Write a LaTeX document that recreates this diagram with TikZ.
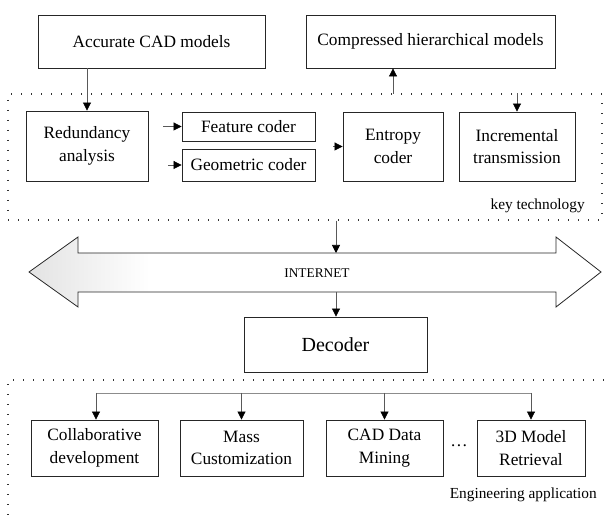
\documentclass[tikz,border=0pt]{standalone}
\usepackage{fontspec}
\setmainfont{Liberation Serif}
\usetikzlibrary{fit,arrows.meta}
\tikzset{
  box/.style={draw=black!85, line width=0.6pt, inner sep=0pt, align=center,
              font=\fontsize{13}{17}\selectfont},
  framebox/.style={draw=black!80, line width=1pt, dash pattern=on 1pt off 6.5pt, inner sep=0pt},
  conn/.style={draw=black!65, line width=0.5pt, -{Triangle[length=6pt,width=6pt,fill=black,color=black]}},
  lbl/.style={font=\fontsize{11.5}{13}\selectfont, anchor=east, inner sep=0pt},
}
\begin{document}
\begin{tikzpicture}[x=0.75pt,y=-0.75pt]
\useasboundingbox (0,0) rectangle (604,523);

% top boxes
\node[box, minimum width=170.25pt, minimum height=39.75pt] (acc) at (151.5,41.5) {Accurate CAD models};
\node[box, minimum width=186.75pt, minimum height=39.75pt] (comp) at (430.5,41.5) {Compressed hierarchical models};

% key technology frame
\node[framebox, fit={(8,94) (602,220)}] (kt) {};
\node[box, minimum width=91.5pt, minimum height=52.5pt] (red) at (87,146) {Redundancy\\analysis};
\node[box, minimum width=99.75pt, minimum height=21.75pt] (feat) at (248.5,126.5) {Feature coder};
\node[box, minimum width=99.75pt, minimum height=24pt] (geo) at (248.5,165) {Geometric coder};
\node[box, minimum width=75pt, minimum height=51.75pt] (ent) at (393,146.5) {Entropy\\coder};
\node[box, minimum width=87pt, minimum height=51.75pt] (inc) at (517,146.5) {Incremental\\transmission};
\node[lbl] (ktl) at (585,206) {key technology};

\coordinate (fs) at (163,126.5);
\coordinate (gs) at (168,165);
\coordinate (es) at (333,146.5);
\coordinate (up) at (393,94);

\draw[conn] (red.north |- acc.south) -- (red.north);
\draw[conn] (up) -- (up |- comp.south);
\draw[conn] (inc.north |- kt.north) -- (inc.north);
\draw[conn] (fs) -- (fs -| feat.west);
\draw[conn] (gs) -- (gs -| geo.west);
\draw[conn] (es) -- (ent.west);

% internet double arrow
\begin{scope}
  \clip (29,272) -- (78,237) -- (78,253) -- (556,253) -- (556,237) -- (601,272)
        -- (556,307) -- (556,292) -- (78,292) -- (78,307) -- cycle;
  \shade[left color=gray!22, right color=white] (29,230) rectangle (150,315);
\end{scope}
\draw[line width=0.6pt, draw=black!85, line join=miter]
  (29,272) -- (78,237) -- (78,253) -- (556,253) -- (556,237) -- (601,272)
  -- (556,307) -- (556,292) -- (78,292) -- (78,307) -- cycle;
\node[font=\fontsize{10}{12}\selectfont] (inet) at (317,273) {INTERNET};
\coordinate (inetT) at (336,253);
\coordinate (inetB) at (336,292);

\node[box, font=\fontsize{15}{17}\selectfont, minimum width=137.25pt, minimum height=41.25pt] (dec) at (335.5,344.5) {Decoder};

\draw[conn] (kt.south -| inetT) -- (inetT);
\draw[conn] (inetB) -- (inetB |- dec.north);

% engineering application frame
\draw[draw=black!80, line width=1pt, dash pattern=on 1pt off 6.5pt]
  (604,380) -- (8,380) -- (8,523);
\node[box, minimum width=95.25pt, minimum height=42pt] (col) at (94.5,448) {Collaborative\\development};
\node[box, minimum width=92.25pt, minimum height=42pt] (mass) at (241.5,448) {Mass\\Customization};
\node[box, minimum width=87.75pt, minimum height=42pt] (mine) at (384.5,448) {CAD Data\\Mining};
\node[box, minimum width=81pt, minimum height=42pt] (ret) at (531,448) {3D Model\\Retrieval};
\node[font=\fontsize{13}{15}\selectfont] (dots) at (459,446) {\dots};
\node[lbl] (eal) at (597,495) {Engineering application};

\coordinate (busL) at (96,393);
\coordinate (busR) at (531,393);
\draw[draw=black!45, line width=0.5pt] (busL) -- (busR);
\draw[conn] (busL) -- (busL |- col.north);
\draw[conn] (mass.north |- busL) -- (mass.north);
\draw[conn] (mine.north |- busL) -- (mine.north);
\draw[conn] (busR) -- (busR |- ret.north);
\end{tikzpicture}
\end{document}
